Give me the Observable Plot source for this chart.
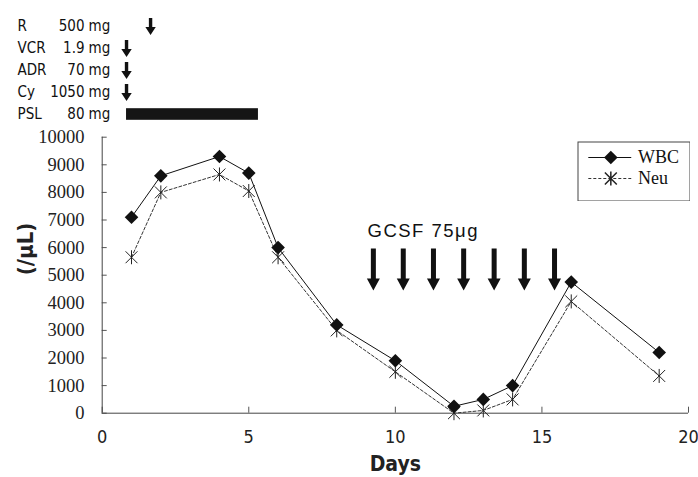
<!DOCTYPE html>
<html><head><meta charset="utf-8">
<script src="https://cdn.jsdelivr.net/npm/d3@7"></script>
<script src="https://cdn.jsdelivr.net/npm/@observablehq/plot@0.6"></script>
<style>
body{margin:0;background:#fff;}
#wrap{position:relative;width:698px;height:477px;overflow:hidden;}
#wrap svg{display:block;}
#legend{position:absolute;left:577px;top:141px;}
</style></head><body><div id="wrap"><div id="topchart"></div><div id="mainchart"></div><div id="legend"></div></div>
<script>
// ---- data ----
const days = [1, 2, 4, 5, 6, 8, 10, 12, 13, 14, 16, 19];
const wbc  = [7100, 8600, 9300, 8700, 6000, 3200, 1900, 250, 500, 1000, 4750, 2200];
const neu  = [5650, 8000, 8650, 8050, 5650, 3000, 1500, 0, 100, 500, 4050, 1350];
const series = ["WBC", "Neu"];

const drugs = ["R", "VCR", "ADR", "Cy", "PSL"];
const doses = ["500", "1.9", "70", "1050", "80"];
const unit = "mg";
const bolusDrugs = ["R", "VCR", "ADR", "Cy"];
const bolusDays = [1.65, 0.83, 0.83, 0.83];
const pslDrug = "PSL";
const pslStart = 0.83, pslEnd = 5.33;

const gcsfDays = [9.25, 10.27, 11.3, 12.33, 13.37, 14.4, 15.43];
const gcsfLevel = 4450;          // arrow tips
const gcsfLabel = "GCSF 75μg";
const gcsfLabelDay = 9.05, gcsfLabelLevel = 6600;

const xTicks = [0, 5, 10, 15, 20];
const yTicks = [0, 1000, 2000, 3000, 4000, 5000, 6000, 7000, 8000, 9000, 10000];
const xLabel = "Days";
const yLabel = "(/μL)";

// ---- shapes ----
function blockArrow(w, hw, hl) {
  return {draw(ctx, l) {
    ctx.moveTo(-w, 0); ctx.lineTo(-w, -l + hl); ctx.lineTo(-hw, -l + hl);
    ctx.lineTo(0, -l); ctx.lineTo(hw, -l + hl); ctx.lineTo(w, -l + hl);
    ctx.lineTo(w, 0); ctx.closePath();
  }};
}
const diamond = {draw(ctx, size) {
  const r = Math.sqrt(size / Math.PI);
  ctx.moveTo(0, -r); ctx.lineTo(r, 0); ctx.lineTo(0, r); ctx.lineTo(-r, 0); ctx.closePath();
}};
const star = {draw(ctx, size) {
  const r = Math.sqrt(size / Math.PI);
  ctx.moveTo(0, -r); ctx.lineTo(0, r);
  ctx.moveTo(-r * 0.85, -r * 0.85); ctx.lineTo(r * 0.85, r * 0.85);
  ctx.moveTo(-r * 0.85, r * 0.85); ctx.lineTo(r * 0.85, -r * 0.85);
}};

const sans = "'DejaVu Sans', sans-serif";
const cond = "'DejaVu Sans Condensed', 'DejaVu Sans', sans-serif";
const serif = "'Liberation Serif', 'DejaVu Serif', serif";

const W = 698, ML = 101.7, MR = 10;

// ---- top: drug schedule ----
const topPlot = Plot.plot({
  width: W, height: 128, marginLeft: ML, marginRight: MR, marginTop: 14.5, marginBottom: 1.8,
  x: {domain: [0, 20], axis: null},
  y: {domain: drugs, axis: null, padding: 0},
  marks: [
    Plot.text(drugs, {y: d => d, text: d => d, frameAnchor: "left", dx: -84.7, textAnchor: "start",
      fontFamily: cond, fontSize: 15, fill: "#111"}),
    Plot.text(drugs, {y: d => d, text: (d, i) => doses[i], frameAnchor: "left", dx: -17.7, textAnchor: "end",
      fontFamily: cond, fontSize: 15, fill: "#111"}),
    Plot.text(drugs, {y: d => d, text: () => unit, frameAnchor: "left", dx: -13.7, textAnchor: "start",
      fontFamily: cond, fontSize: 15, fill: "#111"}),
    Plot.barX([pslDrug], {y: d => d, x1: () => pslStart, x2: () => pslEnd, fill: "#151515", insetTop: 5.2, insetBottom: 5.2}),
    Plot.vector(bolusDrugs, {x: (d, i) => bolusDays[i], y: d => d, length: 17, rotate: 180, anchor: "middle",
      shape: blockArrow(1.7, 5.2, 8), fill: "#111", stroke: "none"})
  ]
});
d3.select(topPlot).selectAll("text").style("font-stretch", "condensed");
document.getElementById("topchart").append(topPlot);

// ---- main chart ----
const mainPlot = Plot.plot({
  width: W, height: 349, marginLeft: ML, marginRight: MR, marginTop: 8.7, marginBottom: 64.3,
  x: {domain: [0, 20]},
  y: {domain: [0, 10000]},
  marks: [
    Plot.axisY(yTicks, {tickSize: -5, tickFormat: () => "", stroke: "#555", label: null}),
    Plot.text(yTicks, {y: d => d, text: d => String(d), frameAnchor: "left", dx: -17.7, textAnchor: "end",
      fontFamily: serif, fontSize: 18.5, fill: "#222"}),
    Plot.axisX(xTicks, {tickSize: -6, tickPadding: 23, fontFamily: cond, fontSize: 18, stroke: "#555", fill: "#222", label: null}),
    Plot.ruleX([0], {stroke: "#444"}),
    Plot.ruleY([0], {stroke: "#444"}),
    Plot.line(days, {x: d => d, y: (d, i) => neu[i], stroke: "#333", strokeWidth: 1, strokeDasharray: "3,2"}),
    Plot.line(days, {x: d => d, y: (d, i) => wbc[i], stroke: "#111", strokeWidth: 1}),
    Plot.dot(days, {x: d => d, y: (d, i) => neu[i], symbol: star, r: 7, stroke: "#222", strokeWidth: 1, fill: "none"}),
    Plot.dot(days, {x: d => d, y: (d, i) => wbc[i], symbol: diamond, r: 6.8, fill: "#111", stroke: "none"}),
    Plot.vector(gcsfDays, {x: d => d, y: () => gcsfLevel, length: 42, rotate: 180, anchor: "end",
      shape: blockArrow(2.5, 6.5, 12), fill: "#111", stroke: "none"}),
    Plot.text([gcsfLabel], {x: () => gcsfLabelDay, y: () => gcsfLabelLevel, text: d => d, textAnchor: "start",
      fontFamily: "'Liberation Sans', Arial, sans-serif", fontSize: 18.5, fill: "#111"}),
    Plot.text([xLabel], {frameAnchor: "bottom", dy: 51, text: d => d, lineAnchor: "middle",
      fontFamily: cond, fontWeight: "bold", fontSize: 21, fill: "#222"}),
    Plot.text([yLabel], {frameAnchor: "left", dx: -76, rotate: -90, text: d => d,
      fontFamily: cond, fontWeight: "bold", fontSize: 22, fill: "#222"})
  ]
});
const mainSel = d3.select(mainPlot);
mainSel.selectAll("text").filter(function() { return this.textContent === gcsfLabel; }).style("letter-spacing", "1.5px");
mainSel.selectAll("text").filter(function() { return this.textContent === xLabel || this.textContent === yLabel; })
  .style("font-stretch", "condensed");
document.getElementById("mainchart").append(mainPlot);

// ---- legend ----
const legendPlot = Plot.plot({
  width: 113, height: 60, margin: 0,
  x: {domain: [0, 1], axis: null},
  y: {type: "point", domain: series, range: [16, 37], padding: 0, axis: null},
  marks: [
    Plot.frame({stroke: "#444", inset: 0.5}),
    Plot.ruleY([series[0]], {y: d => d, x1: 0.1, x2: 0.48, stroke: "#111"}),
    Plot.ruleY([series[1]], {y: d => d, x1: 0.1, x2: 0.48, stroke: "#333", strokeDasharray: "3,2"}),
    Plot.dot([series[0]], {x: 0.295, y: d => d, symbol: diamond, r: 6.8, fill: "#111", stroke: "none"}),
    Plot.dot([series[1]], {x: 0.295, y: d => d, symbol: star, r: 7, stroke: "#222", fill: "none"}),
    Plot.text(series, {x: 0.535, y: d => d, text: d => d, textAnchor: "start", fontFamily: serif, fontSize: 18, fill: "#111"})
  ]
});
document.getElementById("legend").append(legendPlot);
</script></body></html>
